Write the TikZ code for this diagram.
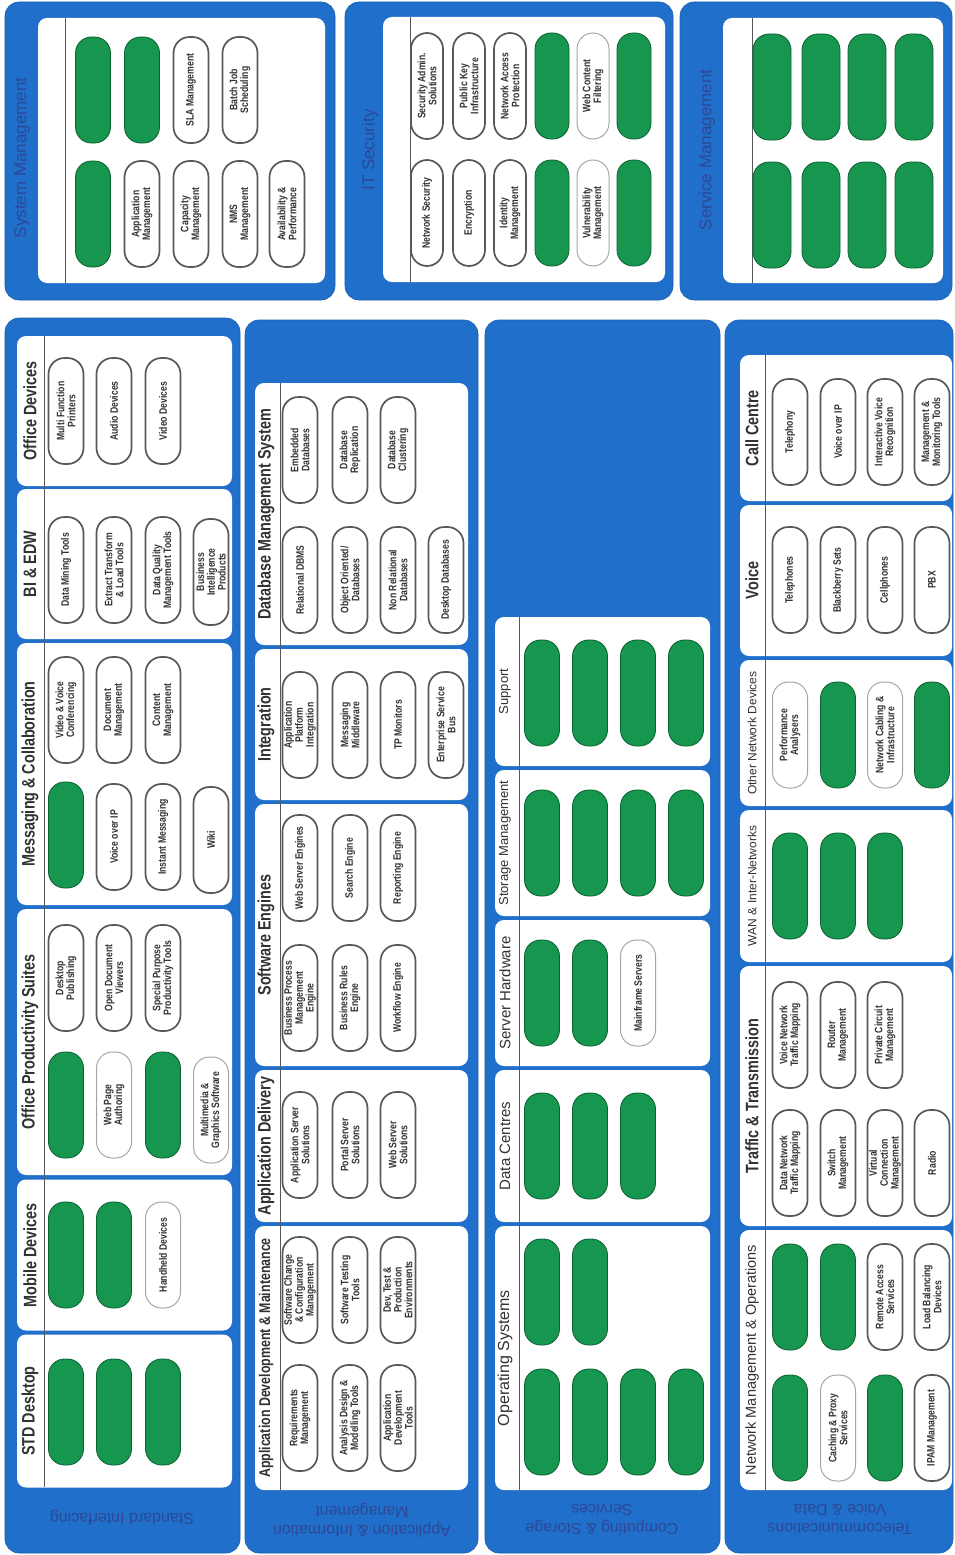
\documentclass[tikz,border=0pt]{standalone}
\usepackage{fontspec}
\setmainfont{Liberation Sans}
\newfontfamily\narrow{Liberation Sans}[FakeStretch=0.8]
\definecolor{bandblue}{RGB}{31,111,203}
\definecolor{bandtext}{RGB}{46,72,150}
\definecolor{pillgreen}{RGB}{22,150,78}
\definecolor{pilledge}{RGB}{88,88,88}
\definecolor{inkgrey}{RGB}{50,50,50}

\begin{document}
\begin{tikzpicture}[x=1pt, y=-1pt,
  outer/.style={fill=bandblue, draw=bandblue!85!black, line width=0.6pt, rounded corners=14pt},
  panel/.style={fill=white, rounded corners=9pt, inner sep=0pt},
  pill/.style={rotate=90, draw=pilledge, line width=1.7pt, fill=white, rounded corners=16pt,
    minimum width=106pt, minimum height=35pt, inner sep=0.5pt, align=center, text=inkgrey,
    font=\narrow\bfseries\fontsize{10.8}{10.8}\selectfont},
  gpill/.style={pill, fill=pillgreen, draw=pillgreen!65!black, line width=0.8pt},
  lpill/.style={pill, draw=gray!70, line width=1pt},
  ttl/.style={rotate=90, text=inkgrey, font=\narrow\bfseries\fontsize{18}{20}\selectfont},
  ttlr/.style={rotate=90, text=inkgrey, font=\fontsize{#1}{#1}\selectfont},
  bandttl/.style={rotate=90, text=bandtext, font=\fontsize{17}{20}\selectfont},
  bandlbl/.style={rotate=180, text=bandtext, align=center, font=\fontsize{16}{19}\selectfont},
  divider/.style={draw=pilledge, line width=1pt}]
  \useasboundingbox (0,0) rectangle (954,1555);
  \fill[white] (0,0) rectangle (954,1555);

  % top row: system management
  \draw[outer] (5,2) rectangle (335,300);
  \node[panel, minimum width=287pt, minimum height=265pt] (sysmgmt) at (181.5,150.5) {};
  \node[bandttl] (sysmgmtT) at (22,158) {System Management};
  \draw[divider] (65,18) -- (65,283);
  \node[gpill] (sm1) at (93,90) {};
  \node[gpill] (sm2) at (142,90) {};
  \node[pill] (sm3) at (191,90) {SLA Management};
  \node[pill] (sm4) at (240,90) {Batch Job\\Scheduling};
  \node[gpill] (sm5) at (93,214) {};
  \node[pill] (sm6) at (142,214) {Application\\Management};
  \node[pill] (sm7) at (191,214) {Capacity\\Management};
  \node[pill] (sm8) at (240,214) {NMS\\Management};
  \node[pill] (sm9) at (287,214) {Availability \&\\Performance};

  % top row: it security
  \draw[outer] (345,2) rectangle (673,300);
  \node[panel, minimum width=282pt, minimum height=265pt] (itsec) at (524,149.5) {};
  \node[bandttl] (itsecT) at (370,150) {IT Security};
  \draw[divider] (410,17) -- (410,282);
  \node[pill, minimum height=32pt] (is1) at (427,86) {Security Admin.\\Solutions};
  \node[pill, minimum height=32pt] (is2) at (469,86) {Public Key\\Infrastructure};
  \node[pill, minimum height=32pt] (is3) at (510,86) {Network Access\\Protection};
  \node[gpill, minimum height=34pt] (is4) at (552,86) {};
  \node[lpill, minimum height=32pt] (is5) at (593,86) {Web Content\\Filtering};
  \node[gpill, minimum height=34pt] (is6) at (634,86) {};
  \node[pill, minimum height=32pt] (is7) at (427,213) {Network Security};
  \node[pill, minimum height=32pt] (is8) at (469,213) {Encryption};
  \node[pill, minimum height=32pt] (is9) at (510,213) {Identity\\Management};
  \node[gpill, minimum height=34pt] (is10) at (552,213) {};
  \node[lpill, minimum height=32pt] (is11) at (593,213) {Vulnerability\\Management};
  \node[gpill, minimum height=34pt] (is12) at (634,213) {};

  % top row: service management
  \draw[outer] (680,2) rectangle (952,300);
  \node[panel, minimum width=220pt, minimum height=265pt] (svcmgmt) at (833,150.5) {};
  \node[bandttl] (svcmgmtT) at (707,150) {Service Management};
  \draw[divider] (752,18) -- (752,283);
  \node[gpill, minimum height=38pt] (sv1) at (772,87) {};
  \node[gpill, minimum height=38pt] (sv2) at (821,87) {};
  \node[gpill, minimum height=38pt] (sv3) at (867,87) {};
  \node[gpill, minimum height=38pt] (sv4) at (914,87) {};
  \node[gpill, minimum height=38pt] (sv5) at (772,215) {};
  \node[gpill, minimum height=38pt] (sv6) at (821,215) {};
  \node[gpill, minimum height=38pt] (sv7) at (867,215) {};
  \node[gpill, minimum height=38pt] (sv8) at (914,215) {};

  % column A: standard interfacing
  \draw[outer] (5,318) rectangle (240,1553);
  \node[panel, minimum width=215pt, minimum height=150pt] (offdev) at (124.5,411) {};
  \node[panel, minimum width=215pt, minimum height=150pt] (biedw) at (124.5,564) {};
  \node[panel, minimum width=215pt, minimum height=262pt] (msgcol) at (124.5,774) {};
  \node[panel, minimum width=215pt, minimum height=266pt] (offprod) at (124.5,1042) {};
  \node[panel, minimum width=215pt, minimum height=151pt] (mobdev) at (124.5,1255) {};
  \node[panel, minimum width=215pt, minimum height=153pt] (stddesk) at (124.5,1411) {};
  \node[ttl] (offdevT) at (30,411) {Office Devices};
  \node[ttl] (biedwT) at (30,564) {BI \& EDW};
  \node[ttl] (msgcolT) at (30,774) {Messaging \& Collaboration};
  \node[ttl] (offprodT) at (30,1042) {Office Productivity Suites};
  \node[ttl] (mobdevT) at (30,1255) {Mobile Devices};
  \node[ttl] (stddeskT) at (30,1411) {STD Desktop};
  \draw[divider] (44,336) -- (44,1487);
  \node[pill] (od1) at (66,411) {Multi Function\\Printers};
  \node[pill] (od2) at (114,411) {Audio Devices};
  \node[pill] (od3) at (163,411) {Video Devices};
  \node[pill] (bi1) at (66,570) {Data Mining Tools};
  \node[pill] (bi2) at (114,570) {Extract Transform\\\& Load Tools};
  \node[pill] (bi3) at (163,570) {Data Quality\\Management Tools};
  \node[pill] (bi4) at (211,572) {Business\\Intelligence\\Products};
  \node[pill] (mc1) at (66,710) {Video \& Voice\\Conferencing};
  \node[pill] (mc2) at (114,710) {Document\\Management};
  \node[pill] (mc3) at (163,710) {Content\\Management};
  \node[gpill] (mc4) at (66,835) {};
  \node[pill] (mc5) at (114,837) {Voice over IP};
  \node[pill] (mc6) at (163,837) {Instant Messaging};
  \node[pill] (mc7) at (211,840) {Wiki};
  \node[pill] (op1) at (66,978) {Desktop\\Publishing};
  \node[pill] (op2) at (114,978) {Open Document\\Viewers};
  \node[pill] (op3) at (163,978) {Special Purpose\\Productivity Tools};
  \node[gpill] (op4) at (66,1105) {};
  \node[lpill] (op5) at (114,1105) {Web Page\\Authoring};
  \node[gpill] (op6) at (163,1105) {};
  \node[lpill] (op7) at (211,1110) {Multimedia \&\\Graphics Software};
  \node[gpill] (md1) at (66,1255) {};
  \node[gpill] (md2) at (114,1255) {};
  \node[lpill] (md3) at (163,1255) {Handheld Devices};
  \node[gpill] (sd1) at (66,1412) {};
  \node[gpill] (sd2) at (114,1412) {};
  \node[gpill] (sd3) at (163,1412) {};
  \node[bandlbl] (colAlbl) at (122,1518) {Standard Interfacing};

  % column B: applications
  \draw[outer] (245,320) rectangle (478,1553);
  \node[panel, minimum width=213pt, minimum height=262pt] (dbms) at (361.5,514) {};
  \node[panel, minimum width=213pt, minimum height=151pt] (integ) at (361.5,724.5) {};
  \node[panel, minimum width=213pt, minimum height=262pt] (sweng) at (361.5,935) {};
  \node[panel, minimum width=213pt, minimum height=152pt] (appdel) at (361.5,1146) {};
  \node[panel, minimum width=213pt, minimum height=264pt] (appdev) at (361.5,1358) {};
  \node[ttl] (dbmsT) at (266,514) {Database Management System};
  \node[ttl] (integT) at (266,724.5) {Integration};
  \node[ttl] (swengT) at (266,935) {Software Engines};
  \node[ttl] (appdelT) at (266,1146) {Application Delivery};
  \node[ttl, font=\narrow\bfseries\fontsize{15.5}{17}\selectfont] (appdevT) at (266,1358) {Application Development \& Maintenance};
  \draw[divider] (280,383) -- (280,1490);
  \node[pill] (db1) at (300,450) {Embedded\\Databases};
  \node[pill] (db2) at (350,450) {Database\\Replication};
  \node[pill] (db3) at (398,450) {Database\\Clustering};
  \node[pill] (db4) at (300,580) {Relational DBMS};
  \node[pill] (db5) at (350,580) {Object Oriented/\\Databases};
  \node[pill] (db6) at (398,580) {Non Relational\\Databases};
  \node[pill] (db7) at (446,580) {Desktop Databases};
  \node[pill] (in1) at (300,725) {Application\\Platform\\Integration};
  \node[pill] (in2) at (350,725) {Messaging\\Middleware};
  \node[pill] (in3) at (398,725) {TP Monitors};
  \node[pill] (in4) at (446,725) {Enterprise Service\\Bus};
  \node[pill] (se1) at (300,868) {Web Server Engines};
  \node[pill] (se2) at (350,868) {Search Engine};
  \node[pill] (se3) at (398,868) {Reporting Engine};
  \node[pill] (se4) at (300,998) {Business Process\\Management\\Engine};
  \node[pill] (se5) at (350,998) {Business Rules\\Engine};
  \node[pill] (se6) at (398,998) {Workflow Engine};
  \node[pill] (ad1) at (300,1145) {Application Server\\Solutions};
  \node[pill] (ad2) at (350,1145) {Portal Server\\Solutions};
  \node[pill] (ad3) at (398,1145) {Web Server\\Solutions};
  \node[pill] (dm1) at (300,1290) {Software Change\\\& Configuration\\Management};
  \node[pill] (dm2) at (350,1290) {Software Testing\\Tools};
  \node[pill] (dm3) at (398,1290) {Dev, Test \&\\Production\\Environments};
  \node[pill] (dm4) at (300,1418) {Requirements\\Management};
  \node[pill] (dm5) at (350,1418) {Analysis Design \&\\Modelling Tools};
  \node[pill] (dm6) at (398,1418) {Application\\Development\\Tools};
  \node[bandlbl] (colBlbl) at (362,1520) {Application \& Information\\Management};

  % column C: hosting
  \draw[outer] (485,320) rectangle (720,1553);
  \node[panel, minimum width=215pt, minimum height=149pt] (supp) at (602.5,691.5) {};
  \node[panel, minimum width=215pt, minimum height=146pt] (stor) at (602.5,843) {};
  \node[panel, minimum width=215pt, minimum height=146pt] (srvhw) at (602.5,993) {};
  \node[panel, minimum width=215pt, minimum height=152pt] (datac) at (602.5,1146) {};
  \node[panel, minimum width=215pt, minimum height=264pt] (opsys) at (602.5,1358) {};
  \node[ttlr=13] (suppT) at (505,691.5) {Support};
  \node[ttlr=13] (storT) at (505,843) {Storage Management};
  \node[ttlr=15] (srvhwT) at (505,993) {Server Hardware};
  \node[ttlr=15] (datacT) at (505,1146) {Data Centres};
  \node[ttlr=16] (opsysT) at (505,1358) {Operating Systems};
  \draw[divider] (519,617) -- (519,1490);
  \node[gpill] (su1) at (542,693) {};
  \node[gpill] (su2) at (590,693) {};
  \node[gpill] (su3) at (638,693) {};
  \node[gpill] (su4) at (686,693) {};
  \node[gpill] (st1) at (542,843) {};
  \node[gpill] (st2) at (590,843) {};
  \node[gpill] (st3) at (638,843) {};
  \node[gpill] (st4) at (686,843) {};
  \node[gpill] (sh1) at (542,993) {};
  \node[gpill] (sh2) at (590,993) {};
  \node[lpill] (sh3) at (638,993) {Mainframe Servers};
  \node[gpill] (dc1) at (542,1146) {};
  \node[gpill] (dc2) at (590,1146) {};
  \node[gpill] (dc3) at (638,1146) {};
  \node[gpill] (os1) at (542,1292) {};
  \node[gpill] (os2) at (590,1292) {};
  \node[gpill] (os3) at (542,1422) {};
  \node[gpill] (os4) at (590,1422) {};
  \node[gpill] (os5) at (638,1422) {};
  \node[gpill] (os6) at (686,1422) {};
  \node[bandlbl] (colClbl) at (602,1520) {Computing \& Storage\\Services};

  % column D: networks
  \draw[outer] (725,320) rectangle (953,1553);
  \node[panel, minimum width=212pt, minimum height=146pt] (callc) at (846,428) {};
  \node[panel, minimum width=212pt, minimum height=151pt] (voice) at (846,580.5) {};
  \node[panel, minimum width=212pt, minimum height=146pt] (othnet) at (846,733) {};
  \node[panel, minimum width=212pt, minimum height=152pt] (wan) at (846,886) {};
  \node[panel, minimum width=212pt, minimum height=260pt] (traffic) at (846,1096) {};
  \node[panel, minimum width=212pt, minimum height=260pt] (netops) at (846,1360) {};
  \node[ttl] (callcT) at (752,428) {Call Centre};
  \node[ttl] (voiceT) at (752,580.5) {Voice};
  \node[ttlr=12] (othnetT) at (752,733) {Other Network Devices};
  \node[ttlr=12] (wanT) at (752,886) {WAN \& Inter-Networks};
  \node[ttl] (trafficT) at (752,1096) {Traffic \& Transmission};
  \node[ttlr=14.5] (netopsT) at (752,1360) {Network Management \& Operations};
  \draw[divider] (765,355) -- (765,1490);
  \node[pill] (cc1) at (790,432) {Telephony};
  \node[pill] (cc2) at (838,432) {Voice over IP};
  \node[pill] (cc3) at (885,432) {Interactive Voice\\Recognition};
  \node[pill] (cc4) at (932,432) {Management \&\\Monitoring Tools};
  \node[pill] (vo1) at (790,580) {Telephones};
  \node[pill] (vo2) at (838,580) {Blackberry Sets};
  \node[pill] (vo3) at (885,580) {Cellphones};
  \node[pill] (vo4) at (932,580) {PBX};
  \node[lpill] (on1) at (790,735) {Performance\\Analysers};
  \node[gpill] (on2) at (838,735) {};
  \node[lpill] (on3) at (885,735) {Network Cabling \&\\Infrastructure};
  \node[gpill] (on4) at (932,735) {};
  \node[gpill] (wn1) at (790,886) {};
  \node[gpill] (wn2) at (838,886) {};
  \node[gpill] (wn3) at (885,886) {};
  \node[pill] (tt1) at (790,1035) {Voice Network\\Traffic Mapping};
  \node[pill] (tt2) at (838,1035) {Router\\Management};
  \node[pill] (tt3) at (885,1035) {Private Circuit\\Management};
  \node[pill] (tt4) at (790,1163) {Data Network\\Traffic Mapping};
  \node[pill] (tt5) at (838,1163) {Switch\\Management};
  \node[pill] (tt6) at (885,1163) {Virtual\\Connection\\Management};
  \node[pill] (tt7) at (932,1163) {Radio};
  \node[gpill] (no1) at (790,1297) {};
  \node[gpill] (no2) at (838,1297) {};
  \node[pill] (no3) at (885,1297) {Remote Access\\Services};
  \node[pill] (no4) at (932,1297) {Load Balancing\\Devices};
  \node[gpill] (no5) at (790,1428) {};
  \node[lpill] (no6) at (838,1428) {Caching \& Proxy\\Services};
  \node[gpill] (no7) at (885,1428) {};
  \node[pill] (no8) at (932,1428) {IPAM Management};
  \node[bandlbl] (colDlbl) at (840,1520) {Telecommunications\\Voice \& Data};
\end{tikzpicture}
\end{document}
